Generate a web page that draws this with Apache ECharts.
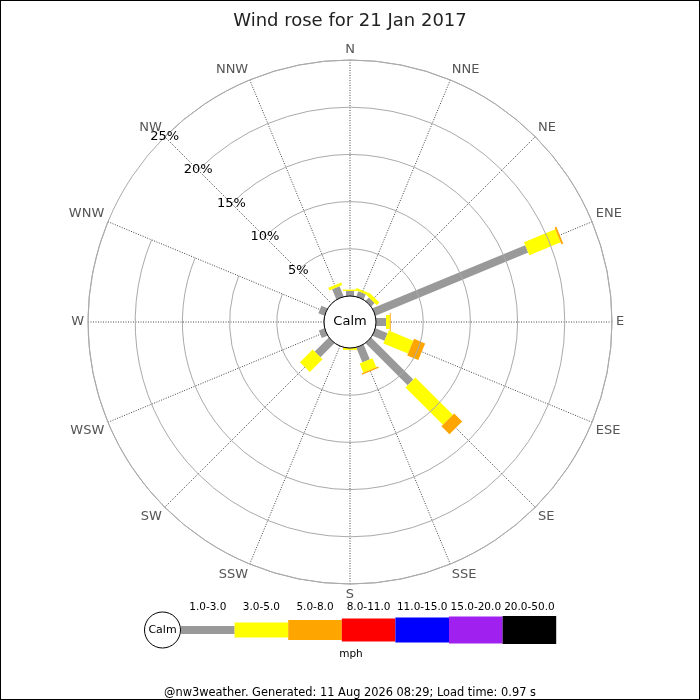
<!DOCTYPE html>
<html>
<head>
<meta charset="utf-8">
<script src="https://cdn.jsdelivr.net/npm/echarts@6/dist/echarts.min.js"></script>
<style>
  html, body { margin: 0; padding: 0; background: #fff; }
  #containergraph { width: 700px; height: 700px; box-sizing: border-box; border: 1px solid #000; }
</style>
</head>
<body>
<div id="containergraph"></div>
<script>
// compass points, clockwise from north
const dirs = ['N', 'NNE', 'NE', 'ENE', 'E', 'ESE', 'SE', 'SSE', 'S', 'SSW', 'SW', 'WSW', 'W', 'WNW', 'NW', 'NNW'];
const speedBands = ['1.0-3.0', '3.0-5.0', '5.0-8.0', '8.0-11.0', '11.0-15.0', '15.0-20.0', '20.0-50.0'];
const radiusTicks = [0, 5, 10, 15, 20, 25];

// % of the day in each direction, per speed band (mph)
const band1 = [0.53, 0.6, 0.5, 17.5, 1.06, 1.38, 6.3, 1.7, 0, 0, 2.1, 0.65, 0, 0.7, 0, 1.17];
const band2 = [0.15, 0.25, 0.4, 3.6, 0.4, 2.82, 5.6, 1.05, 0.2, 0, 1.9, 0, 0, 0, 0, 0.3];
const band3 = [0, 0, 0, 0.2, 0.1, 1.27, 1.2, 0.15, 0, 0, 0, 0, 0, 0, 0, 0];
const band4 = [0, 0, 0, 0, 0, 0, 0, 0, 0, 0, 0, 0, 0, 0, 0, 0];
const band5 = [0, 0, 0, 0, 0, 0, 0, 0, 0, 0, 0, 0, 0, 0, 0, 0];
const band6 = [0, 0, 0, 0, 0, 0, 0, 0, 0, 0, 0, 0, 0, 0, 0, 0];
const band7 = [0, 0, 0, 0, 0, 0, 0, 0, 0, 0, 0, 0, 0, 0, 0, 0];
const bands = [band1, band2, band3, band4, band5, band6, band7];

const bandColors = ['#999999', '#ffff00', '#ffa500', '#ff0000', '#0000ff', '#a020f0', '#000000'];
const bandWidths = [8, 14, 18, 21, 23, 25, 27];
const legendHeights = [8, 15, 20, 23, 25, 27, 28];

// the radius axis is drawn along the start angle, so start the circle at NW
const startIdx = dirs.indexOf('NW');
const angleCats = dirs.slice(startIdx).concat(dirs.slice(0, startIdx));
const toAxisIdx = i => (i - startIdx + dirs.length) % dirs.length;

let dom = document.getElementById('containergraph');
let myChart = echarts.init(dom, null, { renderer: 'canvas' });

const cx = 349, cy = 321;

function makeRender(b) {
  return function (params, api) {
    const idx = api.value(0);
    const r0 = api.value(1);
    const r1 = api.value(2);
    const a = api.coord([r0, idx]);
    const e = api.coord([r1, idx]);
    const o = api.coord([0, idx]);
    const f = api.coord([25, idx]);
    let ux = f[0] - o[0], uy = f[1] - o[1];
    const len = Math.hypot(ux, uy);
    ux /= len; uy /= len;
    const h = bandWidths[b] / 2;
    const nx = -uy * h, ny = ux * h;
    return {
      type: 'polygon',
      shape: { points: [
        [a[0] + nx, a[1] + ny], [e[0] + nx, e[1] + ny],
        [e[0] - nx, e[1] - ny], [a[0] - nx, a[1] - ny]
      ] },
      style: { fill: bandColors[b] }
    };
  };
}

// cumulative start/end per direction for each band
let cum = dirs.map(() => 0);
let series = bands.map((vals, b) => {
  let items = [];
  vals.forEach((v, i) => {
    if (v > 0) items.push([toAxisIdx(i), cum[i], cum[i] + v]);
    cum[i] += v;
  });
  return {
    name: speedBands[b],
    type: 'custom',
    coordinateSystem: 'polar',
    encode: { angle: 0, radius: [1, 2] },
    renderItem: makeRender(b),
    silent: true,
    z: 5,
    data: items
  };
});

// legend drawn from the band lists
const legX = 180, legStep = 53.6, legY = 629;
let graphics = [
  { type: 'circle', z: 100, shape: { cx: cx, cy: cy, r: 26 }, style: { fill: '#fff', stroke: '#000', lineWidth: 1 } },
  { type: 'text', z: 101, x: cx, y: cy, style: { text: 'Calm', fill: '#000', font: '13px "DejaVu Sans"', align: 'center', verticalAlign: 'middle' } },
  { type: 'circle', z: 100, shape: { cx: 161.5, cy: legY, r: 18 }, style: { fill: '#fff', stroke: '#000', lineWidth: 1 } },
  { type: 'text', z: 101, x: 161.5, y: legY, style: { text: 'Calm', fill: '#000', font: '11px "DejaVu Sans"', align: 'center', verticalAlign: 'middle' } },
  { type: 'text', z: 101, x: 350, y: 653, style: { text: 'mph', fill: '#000', font: '10.5px "DejaVu Sans"', align: 'center', verticalAlign: 'middle' } }
];
speedBands.forEach((lab, b) => {
  const x0 = legX + b * legStep;
  graphics.push({ type: 'rect', z: 100, shape: { x: x0, y: legY - legendHeights[b] / 2, width: legStep, height: legendHeights[b] }, style: { fill: bandColors[b] } });
  graphics.push({ type: 'text', z: 101, x: x0 + legStep / 2, y: 606, style: { text: lab, fill: '#000', font: '10.5px "DejaVu Sans"', align: 'center', verticalAlign: 'middle' } });
});

let option = {
  backgroundColor: '#fff',
  animation: false,
  title: [
    { text: 'Wind rose for 21 Jan 2017', left: 'center', top: 6,
      textStyle: { fontFamily: 'DejaVu Sans', fontSize: 18, fontWeight: 'normal', color: '#222' } },
    { text: '@nw3weather. Generated: 11 Aug 2026 08:29; Load time: 0.97 s', left: 'center', top: 682,
      textStyle: { fontFamily: 'DejaVu Sans', fontSize: 11.4, fontWeight: 'normal', color: '#000' } }
  ],
  polar: { center: [cx, cy], radius: [26, 262] },
  angleAxis: {
    type: 'category',
    data: angleCats,
    boundaryGap: false,
    startAngle: 135,
    clockwise: true,
    axisLine: { show: true, lineStyle: { color: '#aaa', width: 1 } },
    axisTick: { show: false },
    axisLabel: { interval: 0, margin: 4, color: '#555', fontSize: 13, fontFamily: 'DejaVu Sans' },
    splitLine: { show: true, interval: 0, lineStyle: { color: '#444', width: 1, type: [1, 1.5] } }
  },
  radiusAxis: {
    type: 'value',
    min: radiusTicks[0],
    max: radiusTicks[radiusTicks.length - 1],
    interval: 5,
    axisLine: { show: false },
    axisTick: { show: false },
    axisLabel: {
      margin: 0, align: 'center', verticalAlign: 'middle',
      color: '#000', fontSize: 13, fontFamily: 'DejaVu Sans',
      formatter: v => (v ? v + '%' : '')
    },
    splitLine: { show: true, lineStyle: { color: '#aaa', width: 1 } },
    z: 10
  },
  graphic: graphics,
  series: series
};

myChart.setOption(option);
window.addEventListener('resize', myChart.resize);
</script>
</body>
</html>
